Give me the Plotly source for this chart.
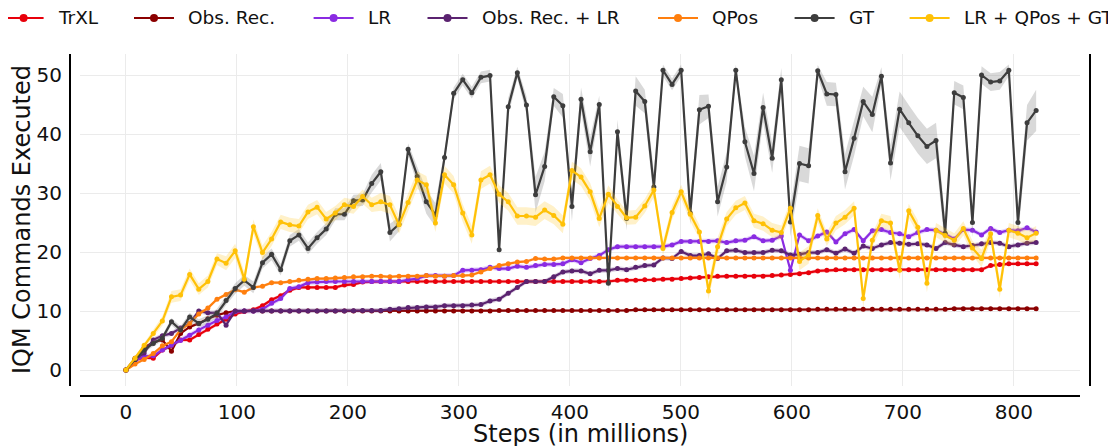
import plotly.graph_objects as go

# x grid: evaluation points (millions of steps)
steps = [round(8.2 * i, 1) for i in range(101)]

trxl = [0, 1.7, 2.1, 2.0, 3.4, 4.1, 5.1, 5.1, 6.0, 6.9, 7.8, 8.6, 9.5, 9.9, 10.2, 10.9, 11.9, 12.6, 13.5, 14.0,
        14.0, 14.0, 14.0, 14.0, 14.4, 14.5, 14.9, 15.0, 15.0, 15.0, 15.0, 15.0, 15.0, 15.0, 15.0, 15.0, 15.0, 15.0, 15.0, 15.0,
        15.0, 15.0, 15.0, 15.0, 15.0, 15.0, 15.0, 15.0, 15.0, 15.0, 15.0, 15.0, 15.0, 15.0, 15.2, 15.2, 15.2, 15.3, 15.3, 15.4,
        15.4, 15.5, 15.6, 15.7, 15.8, 15.9, 15.9, 15.9, 15.9, 15.9, 15.9, 16.0, 16.1, 16.2, 16.3, 16.5, 16.8, 16.9, 17.0, 17.0,
        17.0, 17.0, 17.0, 17.0, 17.0, 17.0, 17.0, 17.0, 17.0, 17.0, 17.0, 17.0, 17.0, 17.0, 17.0, 17.7, 17.9, 18.0, 18.0, 18.0,
        18.0]

obs_rec = [0, 2.0, 3.8, 4.7, 5.1, 3.2, 6.2, 7.3, 7.9, 8.7, 9.3, 9.7,
           10.0, 10.0, 10.0, 10.0, 10.0, 10.0, 10.0, 10.0, 10.0, 10.0, 10.0, 10.0, 10.0, 10.0, 10.0, 10.0, 10.0, 10.0,
           10.0, 10.0, 10.0, 10.0, 10.0, 10.0, 10.0, 10.0, 10.0, 10.0, 10.0,
           10.1, 10.1, 10.1, 10.1, 10.1, 10.1, 10.1, 10.1, 10.1, 10.1, 10.1, 10.1, 10.1, 10.1, 10.1,
           10.2, 10.2, 10.2, 10.2, 10.2, 10.2, 10.2, 10.2, 10.2, 10.2, 10.2, 10.2, 10.2, 10.2, 10.2, 10.2, 10.2, 10.2, 10.2, 10.2,
           10.3, 10.3, 10.3, 10.3, 10.3, 10.3, 10.3, 10.3, 10.3, 10.3, 10.3, 10.3, 10.3, 10.3, 10.3,
           10.4, 10.4, 10.4, 10.4, 10.4, 10.4, 10.4, 10.4, 10.4, 10.4]

lr = [0, 1.6, 2.3, 2.4, 3.4, 4.2, 5.0, 5.9, 6.8, 7.6, 8.4, 9.0, 9.9, 10.0, 10.0, 10.3, 11.3, 12.1, 13.8, 14.1,
      14.8, 14.9, 15.0, 15.0, 15.0, 15.0, 15.0, 15.0, 15.0, 15.0, 15.0, 15.3, 15.5, 16.0, 16.0, 15.9, 16.0, 16.9, 16.9, 17.0,
      17.4, 17.2, 17.2, 17.6, 17.4, 17.7, 17.9, 17.9, 18.0, 18.7, 18.2, 18.9, 19.4, 20.4, 20.9, 20.9, 20.9, 20.9, 20.9, 20.9,
      21.2, 21.8, 21.8, 21.8, 21.8, 21.9, 21.6, 21.9, 22.0, 22.6, 21.9, 22.0, 22.7, 16.9, 22.9, 21.9, 22.7, 23.4, 21.7, 23.1,
      23.8, 21.9, 23.6, 23.8, 23.3, 23.1, 22.6, 23.3, 23.8, 23.7, 23.0, 22.2, 23.8, 23.7, 22.9, 24.0, 23.3, 23.7, 23.6, 24.1,
      23.4]

obs_rec_lr = [0, 1.8, 2.9, 5.1, 5.8, 6.2, 7.1, 7.9, 10.0, 9.7, 9.7, 7.6, 10.0, 10.0, 10.0, 10.0, 10.0, 10.0, 10.0, 10.0,
              10.0, 10.0, 10.0, 10.0, 10.0, 10.05, 10.1, 10.1, 10.1, 10.3, 10.4, 10.6, 10.6, 10.7, 10.7, 10.9, 10.9, 10.9, 11.0, 11.1,
              11.7, 12.0, 13.0, 14.0, 15.0, 15.0, 15.0, 15.8, 16.6, 16.8, 16.8, 16.3, 16.9, 16.9, 17.2, 17.0, 17.4, 17.7, 17.8, 19.0,
              18.9, 20.1, 19.4, 19.4, 19.7, 18.9, 20.2, 20.3, 19.9, 19.9, 19.9, 20.3, 20.2, 19.5, 19.6, 19.9, 19.9, 20.4, 19.8, 20.5,
              19.8, 21.0, 20.6, 21.2, 21.6, 21.5, 21.3, 21.4, 21.2, 20.6, 21.6, 21.2, 20.9, 21.1, 21.4, 21.6, 21.5, 20.9, 21.2, 21.5,
              21.6]

qpos = [0, 1.0, 1.8, 2.8, 4.1, 4.8, 6.8, 7.9, 9.5, 10.5, 12.0, 12.8, 13.6, 13.2, 14.0, 14.2, 14.8, 14.8, 15.0, 15.2,
        15.4, 15.5, 15.5, 15.6, 15.7, 15.8, 15.8, 15.9, 15.9, 15.8, 15.9, 15.9, 15.9, 16.0, 15.9, 15.9, 16.0, 16.0, 16.1, 16.6,
        17.2, 17.7, 18.0, 18.3, 18.4, 18.9, 18.8, 18.8, 19.0, 19.0, 19.0, 19.0, 19.0, 19.0, 19.0, 19.0, 19.0, 19.0, 19.0, 19.0,
        19.0, 19.0, 19.0, 19.0, 19.0, 19.0, 19.0, 19.0, 19.0, 19.0, 19.0, 19.0, 19.0, 19.0, 19.0, 19.0, 19.0, 19.0, 19.0, 19.0,
        19.0, 19.0, 19.0, 19.0, 19.0, 19.0, 19.0, 19.0, 19.0, 19.0, 19.0, 19.0, 19.0, 19.0, 19.0, 19.0, 19.0, 19.0, 19.0, 19.0,
        19.0]

gt = [0, 1.8, 3.4, 4.5, 5.4, 8.2, 6.8, 9.0, 7.9, 8.6, 9.6, 11.8, 13.8, 15.2, 14.0, 18.2, 19.6, 17.0, 21.9, 22.9,
      20.6, 22.4, 23.9, 26.4, 26.4, 28.7, 28.8, 31.6, 33.6, 23.3, 24.7, 37.4, 32.8, 28.5, 26.3, 36.0, 46.9, 49.2, 47.0, 49.6,
      49.9, 20.4, 44.6, 50.4, 44.9, 29.7, 34.5, 46.3, 44.8, 27.7, 45.9, 37.0, 45.0, 14.7, 40.4, 25.7, 47.3, 45.5, 31.0, 50.8,
      48.4, 50.8, 26.6, 44.1, 44.7, 28.5, 34.4, 50.8, 38.7, 33.3, 44.5, 35.9, 49.2, 25.1, 35.0, 34.6, 50.7, 46.8, 46.7, 33.6,
      39.3, 45.5, 43.3, 49.8, 35.1, 44.2, 41.9, 39.7, 37.9, 38.9, 23.2, 47.0, 46.2, 25.0, 50.0, 48.8, 49.0, 50.8, 25.0, 41.9,
      44.0]

lr_qpos_gt = [0, 2.0, 4.2, 6.2, 8.3, 12.4, 12.7, 16.2, 13.7, 15.0, 18.8, 18.1, 20.2, 15.4, 24.3, 19.9, 22.2, 25.1, 24.6, 24.4,
              26.8, 27.6, 25.6, 26.6, 28.0, 27.7, 29.4, 28.0, 28.5, 28.0, 24.6, 28.4, 32.2, 31.4, 24.9, 33.1, 31.4, 26.6, 22.9, 32.2,
              33.1, 29.8, 28.5, 26.1, 26.1, 25.9, 27.1, 26.2, 24.7, 33.8, 32.7, 30.2, 25.7, 29.8, 27.7, 25.8, 25.9, 27.8, 30.5, 20.6,
              26.7, 30.2, 26.4, 23.4, 13.4, 20.9, 25.6, 27.5, 28.3, 25.3, 24.8, 23.7, 23.3, 27.4, 18.4, 19.5, 26.2, 22.2, 24.9, 25.9,
              27.4, 12.1, 22.0, 25.3, 24.9, 16.9, 27.0, 24.2, 14.7, 23.7, 22.8, 22.0, 24.0, 20.7, 18.9, 23.1, 13.7, 23.7, 23.2, 22.4,
              23.2]

# half-widths of the shaded bands
gt_ci = [0, 0.3, 0.4, 0.5, 0.5, 0.6, 0.6, 0.7, 0.7, 0.7, 0.8, 0.8, 0.9, 0.9, 1.0, 1.0, 1.0, 1.0, 1.0, 1.0,
         1.0, 1.0, 1.0, 1.0, 1.0, 1.0, 1.0, 1.5, 1.5, 1.5, 1.2, 1.0, 1.5, 2.0, 2.0, 1.2, 1.0, 1.0, 1.0, 1.0,
         1.0, 1.0, 1.5, 1.0, 1.5, 3.0, 2.5, 1.5, 2.0, 2.5, 2.0, 2.5, 1.5, 1.5, 2.0, 2.0, 2.5, 2.0, 2.5, 1.0,
         1.0, 1.0, 2.0, 2.5, 2.0, 2.5, 2.5, 1.0, 2.5, 3.0, 2.5, 2.5, 2.0, 2.5, 3.0, 3.0, 1.0, 2.0, 2.0, 3.0,
         3.0, 2.5, 3.0, 1.5, 3.0, 3.0, 3.0, 3.0, 3.0, 3.0, 2.5, 2.0, 2.0, 2.5, 1.5, 1.5, 1.5, 1.0, 2.5, 3.0,
         3.5]
lr_qpos_gt_ci = [0, 0.3, 0.5, 0.6, 0.8, 1.0, 1.0, 1.0, 1.0, 1.0, 1.0, 1.2, 1.2, 1.2, 1.2, 1.2, 1.2, 1.2, 1.2, 1.2,
                 1.2, 1.2, 1.2, 1.2, 1.2, 1.2, 1.2, 1.2, 1.5, 1.5, 1.5, 1.5, 1.5, 1.5, 1.5, 1.5, 1.5, 1.5, 1.5, 1.5,
                 1.5, 1.5, 1.5, 1.5, 1.5, 1.5, 1.5, 1.5, 1.5, 1.5, 1.5, 1.5, 1.5, 1.5, 1.2, 1.2, 1.2, 1.2, 1.2, 1.2,
                 1.2, 1.2, 1.2, 1.2, 1.5, 1.5, 1.2, 1.2, 1.2, 1.2, 1.2, 1.2, 1.2, 1.2, 1.5, 1.5, 1.2, 1.2, 1.2, 1.2,
                 1.2, 1.5, 1.2, 1.2, 1.2, 1.5, 1.2, 1.2, 1.5, 1.2, 1.2, 1.2, 1.2, 1.2, 1.5, 1.2, 1.5, 1.2, 1.2, 1.2,
                 1.2]
trxl_ci = 0.3
obs_rec_ci = 0.2
lr_ci = 0.4
obs_rec_lr_ci = 0.4
qpos_ci = 0.25

names = ["TrXL", "Obs. Rec.", "LR", "Obs. Rec. + LR", "QPos", "GT", "LR + QPos + GT"]
values = [trxl, obs_rec, lr, obs_rec_lr, qpos, gt, lr_qpos_gt]
cis = [trxl_ci, obs_rec_ci, lr_ci, obs_rec_lr_ci, qpos_ci, gt_ci, lr_qpos_gt_ci]
colors = ["#e8000b", "#8b0000", "#8a2be2", "#5b2370", "#ff7f0e", "#3d3d3d", "#ffc107"]

# geometry in screen pixels; the page body adds an 8 px offset, compensated here
OFF = 8
W, H = 1116, 446
PLOT_L, PLOT_R, PLOT_T, PLOT_B = 80, 1080, 54, 386
ML, MT = PLOT_L - OFF, PLOT_T - OFF
PW, PH = PLOT_R - PLOT_L, PLOT_B - PLOT_T
MR, MB = W - ML - PW, H - MT - PH
legend_line_px = [3.6, 134, 313.6, 427.5, 658, 794.6, 909.6]
legend_y_px = 18


def rgba(hexc, a):
    h = hexc.lstrip("#")
    r, g, b = int(h[0:2], 16), int(h[2:4], 16), int(h[4:6], 16)
    return f"rgba({r},{g},{b},{a})"


def px_x(px):
    return (px - PLOT_L) / PW


def px_y(py):
    return (PLOT_B - py) / PH


fig = go.Figure()
for name, vals, ci, col in zip(names, values, cis, colors):
    hw = ci if isinstance(ci, list) else [ci] * len(vals)
    lower = [v - h for v, h in zip(vals, hw)]
    upper = [v + h for v, h in zip(vals, hw)]
    fill = rgba("#808080", 0.3) if name == "GT" else rgba(col, 0.22)
    fig.add_trace(go.Scatter(x=steps, y=lower, mode="lines", line=dict(width=0, color=col),
                             showlegend=False, hoverinfo="skip"))
    fig.add_trace(go.Scatter(x=steps, y=upper, mode="lines", line=dict(width=0, color=col),
                             fill="tonexty", fillcolor=fill, showlegend=False, hoverinfo="skip"))
    fig.add_trace(go.Scatter(x=steps, y=vals, mode="lines+markers", name=name,
                             line=dict(color=col, width=2.2), marker=dict(color=col, size=5),
                             showlegend=False))

font_family = "DejaVu Sans"

# legend row (line + marker + label for each series)
ly = px_y(legend_y_px)
for name, col, lx in zip(names, colors, legend_line_px):
    fig.add_shape(type="line", xref="paper", yref="paper", x0=px_x(lx), x1=px_x(lx + 40), y0=ly, y1=ly,
                  line=dict(color=col, width=2))
    cx = lx + 20
    fig.add_shape(type="circle", xref="paper", yref="paper", x0=px_x(cx - 4), x1=px_x(cx + 4),
                  y0=px_y(legend_y_px + 4), y1=px_y(legend_y_px - 4),
                  line=dict(color=col, width=0), fillcolor=col)
    fig.add_annotation(text=name, xref="paper", yref="paper", x=px_x(lx + 52), y=ly,
                       xanchor="left", yanchor="middle", showarrow=False,
                       font=dict(family=font_family, size=18.5, color="#111111"))

# axis titles
fig.add_annotation(text="IQM Commands Executed", xref="paper", yref="paper", x=px_x(22), y=px_y(220),
                   xanchor="center", yanchor="middle", textangle=-90, showarrow=False,
                   font=dict(family=font_family, size=24, color="#111111"))
fig.add_annotation(text="Steps (in millions)", xref="paper", yref="paper", x=px_x(580), y=px_y(434),
                   xanchor="center", yanchor="middle", showarrow=False,
                   font=dict(family=font_family, size=24, color="#111111"))

fig.update_layout(
    width=W, height=H,
    margin=dict(l=ML, r=MR, t=MT, b=MB),
    paper_bgcolor="white", plot_bgcolor="white",
    font=dict(family=font_family, size=20, color="#111111"),
    showlegend=False,
)
fig.update_xaxes(
    range=[-41.4, 859.5], tickvals=[0, 100, 200, 300, 400, 500, 600, 700, 800],
    showgrid=True, gridcolor="#ebebeb", gridwidth=1, zeroline=False, showline=False,
    ticks="outside", ticklen=8, tickcolor="rgba(0,0,0,0)", automargin=False,
    tickfont=dict(family=font_family, size=20),
)
fig.update_yaxes(
    range=[-2.71, 53.56], tickvals=[0, 10, 20, 30, 40, 50],
    showgrid=True, gridcolor="#ebebeb", gridwidth=1, zeroline=False, showline=False,
    ticks="outside", ticklen=13, tickcolor="rgba(0,0,0,0)", automargin=False,
    tickfont=dict(family=font_family, size=20),
)

# detached spines (offset 10 px from the plotting area)
spine = dict(color="black", width=2)
fig.add_shape(type="line", xref="paper", yref="paper", x0=px_x(70), x1=px_x(70), y0=0, y1=1, line=spine)
fig.add_shape(type="line", xref="paper", yref="paper", x0=px_x(1090), x1=px_x(1090), y0=0, y1=1, line=spine)
fig.add_shape(type="line", xref="paper", yref="paper", x0=0, x1=1, y0=px_y(396), y1=px_y(396), line=spine)

fig.write_html("out.html")
